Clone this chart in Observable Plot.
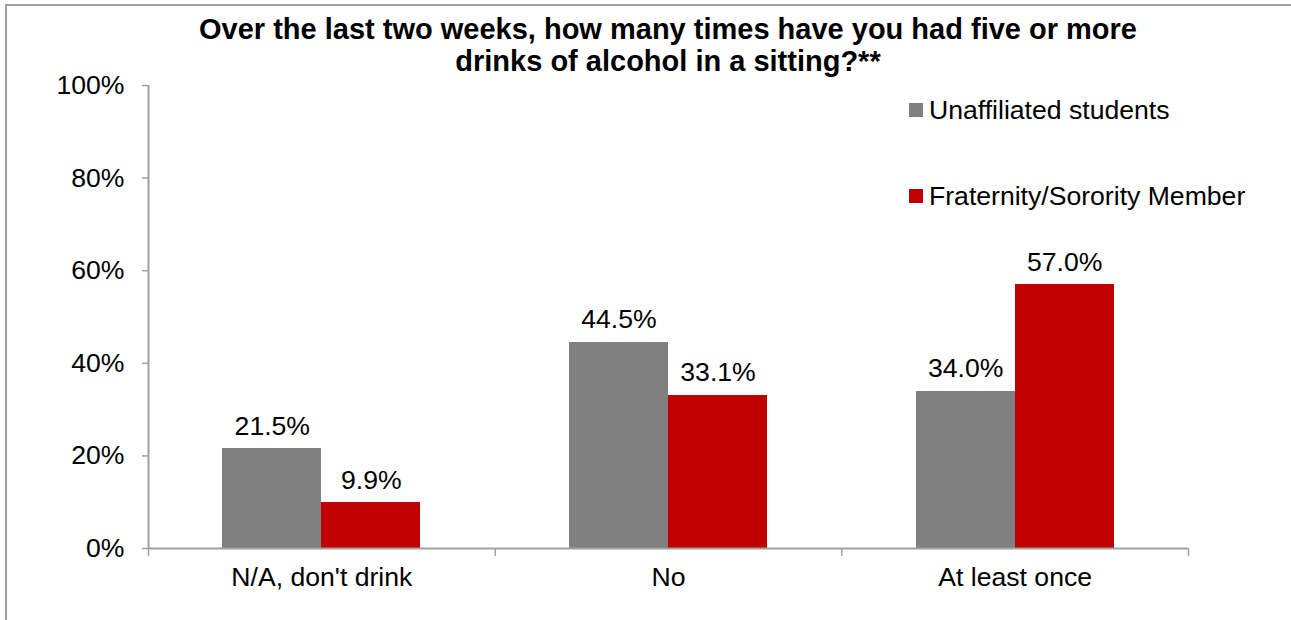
<!DOCTYPE html>
<html>
<head>
<meta charset="utf-8">
<script src="https://cdn.jsdelivr.net/npm/d3@7"></script>
<script src="https://cdn.jsdelivr.net/npm/@observablehq/plot@0.6"></script>
<style>
html, body { margin: 0; padding: 0; overflow: hidden; background: #fff; }
#page { width: 1291px; height: 620px; position: relative; overflow: hidden; font-family: "Liberation Sans", Arial, sans-serif; }
.frame-line { position: absolute; background: #a0a0a0; }
#frame-top { left: 5px; top: 4px; width: 1400px; height: 2px; }
#frame-left { left: 5px; top: 4px; width: 2px; height: 700px; }
#chart { position: absolute; left: 0; top: 0; }
#title { position: absolute; left: 148px; width: 1040px; top: 13px; text-align: center; font-weight: bold; font-size: 29px; line-height: 32px; color: #000; white-space: nowrap; }
.legend-row { position: absolute; left: 909px; display: flex; align-items: center; height: 30px; font-size: 26.6px; color: #000; white-space: nowrap; }
.legend-row .sw { width: 14px; height: 14px; margin-right: 6px; flex: none; }
</style>
</head>
<body>
<div id="page">
<div class="frame-line" id="frame-top"></div>
<div class="frame-line" id="frame-left"></div>
<div id="chart"></div>
<div id="title">Over the last two weeks, how many times have you had five or more<br>drinks of alcohol in a sitting?**</div>
<div id="legend"></div>
</div>
<script>
// ---- data ----
const categories = ["N/A, don't drink", "No", "At least once"];
const seriesNames = ["Unaffiliated students", "Fraternity/Sorority Member"];
const unaffiliated = [21.5, 44.5, 34.0];
const fraternity = [9.9, 33.1, 57.0];
const yTicks = [0, 20, 40, 60, 80, 100];
const seriesColors = ["#808080", "#c00000"];

// ---- build table ----
const seriesValues = [unaffiliated, fraternity];
const gapWidth = 1.5; // Excel-style gap width (150%)
const groupSlots = seriesNames.length + gapWidth;
const rows = [];
categories.forEach((c, i) => {
  seriesNames.forEach((s, j) => {
    const x1 = i + (gapWidth / 2 + j) / groupSlots;
    const x2 = i + (gapWidth / 2 + j + 1) / groupSlots;
    rows.push({category: c, series: s, value: seriesValues[j][i], x1, x2, xm: (x1 + x2) / 2});
  });
});

const axisColor = "#a0a0a0";
const fontSize = 26.6;
const boundaries = d3.range(categories.length + 1);
const centers = categories.map((c, i) => i + 0.5);

const chart = Plot.plot({
  width: 1291,
  height: 620,
  marginLeft: 148,
  marginRight: 103,
  marginTop: 85,
  marginBottom: 72,
  style: {fontFamily: "'Liberation Sans', Arial, sans-serif", fontSize: fontSize + "px", color: "#000", background: "transparent"},
  x: {type: "linear", domain: [0, categories.length], label: null},
  y: {domain: [0, 100], label: null},
  color: {domain: seriesNames, range: seriesColors},
  marks: [
    Plot.rectY(rows, {x1: "x1", x2: "x2", y: "value", fill: "series", shapeRendering: "crispEdges"}),
    Plot.text(rows, {x: "xm", y: "value", text: d => d.value.toFixed(1) + "%", lineAnchor: "bottom", dy: -14, fontSize, fill: "#000"}),
    Plot.axisY({ticks: yTicks, tickFormat: d => d + "%", tickSize: 6, tickPadding: 18, fontSize, stroke: axisColor, strokeWidth: 1.5, fill: "#000", label: null}),
    Plot.axisX({ticks: boundaries, tickSize: 8, tickFormat: () => "", stroke: axisColor, strokeWidth: 1.5, label: null}),
    Plot.axisX({ticks: centers, tickSize: 0, tickPadding: 19, tickFormat: d => categories[Math.floor(d)], fontSize, fill: "#000", label: null}),
    Plot.ruleX([0], {stroke: axisColor, strokeWidth: 2}),
    Plot.ruleY([0], {stroke: axisColor, strokeWidth: 2})
  ]
});
document.getElementById("chart").appendChild(chart);

// ---- legend ----
const legend = document.getElementById("legend");
const legendTops = [95, 181];
seriesNames.forEach((s, j) => {
  const row = document.createElement("div");
  row.className = "legend-row";
  row.style.top = legendTops[j] + "px";
  const sw = document.createElement("div");
  sw.className = "sw";
  sw.style.background = seriesColors[j];
  const label = document.createElement("span");
  label.textContent = s;
  row.appendChild(sw);
  row.appendChild(label);
  legend.appendChild(row);
});
</script>
</body>
</html>
